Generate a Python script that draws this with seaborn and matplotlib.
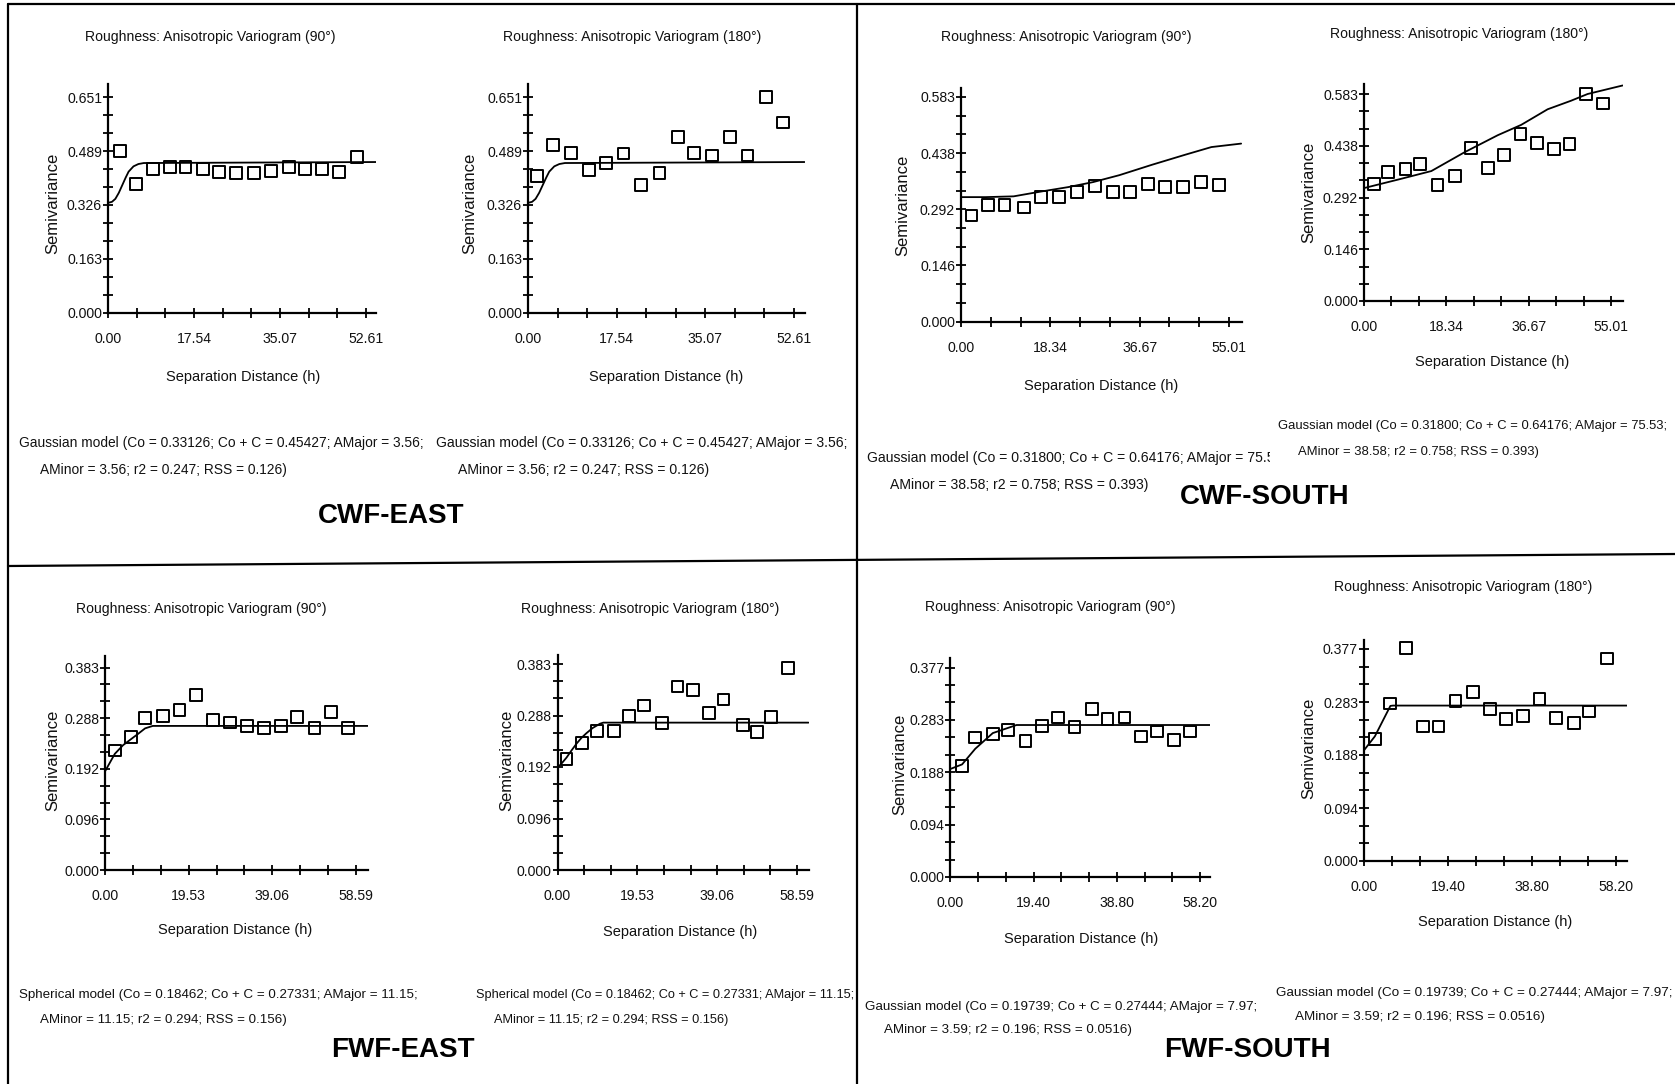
import numpy as np
import matplotlib
matplotlib.use("Agg")
import matplotlib.pyplot as plt
import seaborn as sns
from matplotlib import font_manager
from matplotlib.ticker import AutoMinorLocator
from matplotlib.lines import Line2D
from matplotlib.transforms import Bbox, TransformedBbox

# ---------------- data ----------------
# CWF-EAST, 90 deg
lag_cwf_e90 = [2.42, 5.64, 9.14, 12.6, 15.8, 19.4, 22.6, 26.1, 29.7, 33.2, 36.9, 40.2, 43.7, 47.1, 50.8]
sv_cwf_e90 = [0.488, 0.388, 0.433, 0.441, 0.441, 0.433, 0.426, 0.421, 0.421, 0.429, 0.441, 0.433, 0.433, 0.426, 0.470]
# CWF-EAST, 180 deg
lag_cwf_e180 = [1.83, 4.97, 8.57, 12.04, 15.5, 18.9, 22.4, 26.0, 29.7, 32.8, 36.4, 40.0, 43.4, 47.0, 50.5]
sv_cwf_e180 = [0.413, 0.506, 0.483, 0.430, 0.452, 0.481, 0.386, 0.421, 0.530, 0.483, 0.475, 0.530, 0.475, 0.651, 0.574]
# model curve CWF-EAST (same in both directions)
mod_h_cwf_e = [0, 0.8, 1.5, 2.2, 2.9, 3.6, 4.2, 5.2, 6.2, 7.3, 54.7]
mod_g_cwf_e = [0.332, 0.335, 0.344, 0.362, 0.385, 0.408, 0.426, 0.442, 0.449, 0.452, 0.455]

# CWF-SOUTH, 90 deg
lag_cwf_s90 = [2.17, 5.48, 8.93, 12.86, 16.44, 20.16, 23.75, 27.54, 31.19, 34.64, 38.43, 41.95, 45.54, 49.26, 52.98]
sv_cwf_s90 = [0.275, 0.302, 0.302, 0.296, 0.323, 0.323, 0.337, 0.351, 0.337, 0.337, 0.357, 0.350, 0.350, 0.363, 0.354]
mod_h_cwf_s90 = [0, 5, 10.8, 16.2, 22, 27.1, 32.5, 39.2, 46, 51.4, 57.5]
mod_g_cwf_s90 = [0.323, 0.323, 0.325, 0.337, 0.349, 0.362, 0.380, 0.407, 0.433, 0.453, 0.462]
# CWF-SOUTH, 180 deg
lag_cwf_s180 = [2.30, 5.40, 9.25, 12.51, 16.36, 20.21, 23.91, 27.62, 31.17, 34.87, 38.57, 42.28, 45.76, 49.46, 53.23]
sv_cwf_s180 = [0.330, 0.364, 0.371, 0.386, 0.326, 0.352, 0.432, 0.374, 0.412, 0.470, 0.446, 0.427, 0.443, 0.583, 0.556]
mod_h_cwf_s180 = [0, 7.6, 15.0, 22.4, 29.8, 35.0, 40.9, 46.1, 49.8, 57.6]
mod_g_cwf_s180 = [0.318, 0.342, 0.366, 0.419, 0.467, 0.496, 0.540, 0.564, 0.583, 0.607]

# FWF-EAST, 90 deg
lag_fwf_e90 = [2.28, 6.06, 9.36, 13.45, 17.38, 21.23, 25.17, 29.18, 33.18, 37.12, 41.05, 44.8, 48.9, 52.7, 56.8]
sv_fwf_e90 = [0.226, 0.251, 0.288, 0.292, 0.302, 0.331, 0.284, 0.279, 0.273, 0.268, 0.273, 0.289, 0.268, 0.299, 0.268]
mod_h_fwf_e90 = [0, 2.28, 4.2, 6.06, 7.8, 9.36, 11.15, 61.5]
mod_g_fwf_e90 = [0.1865, 0.2196, 0.236, 0.2474, 0.258, 0.2679, 0.2725, 0.2725]
# FWF-EAST, 180 deg
lag_fwf_e180 = [2.21, 6.05, 9.72, 13.89, 17.57, 21.25, 25.66, 29.34, 33.1, 37.1, 40.6, 45.35, 48.8, 52.3, 56.4]
sv_fwf_e180 = [0.207, 0.236, 0.259, 0.259, 0.287, 0.306, 0.274, 0.341, 0.334, 0.292, 0.317, 0.269, 0.256, 0.284, 0.375]
mod_h_fwf_e180 = [0, 1.1, 2.21, 3.4, 4.66, 5.9, 7.1, 8.6, 10.4, 11.2, 61.4]
mod_g_fwf_e180 = [0.190, 0.199, 0.209, 0.222, 0.235, 0.246, 0.2545, 0.264, 0.272, 0.274, 0.274]

# FWF-SOUTH, 90 deg
lag_fwf_s90 = [2.70, 5.78, 9.87, 13.49, 17.5, 21.35, 25.05, 28.9, 32.99, 36.6, 40.6, 44.4, 48.2, 52.2, 55.9]
sv_fwf_s90 = [0.1995, 0.251, 0.257, 0.265, 0.245, 0.272, 0.287, 0.270, 0.303, 0.284, 0.287, 0.253, 0.262, 0.247, 0.262]
mod_h_fwf_s90 = [0, 2.7, 5.78, 9.87, 13.5, 15.4, 60.5]
mod_g_fwf_s90 = [0.1945, 0.2026, 0.2308, 0.259, 0.2685, 0.2735, 0.2735]
# FWF-SOUTH, 180 deg
lag_fwf_s180 = [2.51, 6.09, 9.74, 13.69, 17.19, 21.15, 25.1, 29.14, 32.79, 36.75, 40.55, 44.35, 48.5, 51.96, 56.1]
sv_fwf_s180 = [0.217, 0.280, 0.379, 0.239, 0.239, 0.284, 0.301, 0.270, 0.252, 0.258, 0.288, 0.254, 0.245, 0.266, 0.360]
mod_h_fwf_s180 = [0, 2.51, 6.09, 6.7, 60.7]
mod_g_fwf_s180 = [0.1969, 0.2217, 0.2758, 0.2764, 0.2764]

# tick labels
xt_cwf_e = ["0.00", "17.54", "35.07", "52.61"]
yt_cwf_e = ["0.000", "0.163", "0.326", "0.489", "0.651"]
xt_cwf_s = ["0.00", "18.34", "36.67", "55.01"]
yt_cwf_s = ["0.000", "0.146", "0.292", "0.438", "0.583"]
xt_fwf_e = ["0.00", "19.53", "39.06", "58.59"]
yt_fwf_e = ["0.000", "0.096", "0.192", "0.288", "0.383"]
xt_fwf_s = ["0.00", "19.40", "38.80", "58.20"]
yt_fwf_s = ["0.000", "0.094", "0.188", "0.283", "0.377"]

title_90 = "Roughness: Anisotropic Variogram (90°)"
title_180 = "Roughness: Anisotropic Variogram (180°)"
ylabel_txt = "Semivariance"
xlabel_txt = "Separation Distance (h)"

model_cwf_e = ["Gaussian model (Co = 0.33126; Co + C = 0.45427; AMajor = 3.56;",
               "AMinor = 3.56; r2 = 0.247; RSS = 0.126)"]
model_cwf_s = ["Gaussian model (Co = 0.31800; Co + C = 0.64176; AMajor = 75.53;",
               "AMinor = 38.58; r2 = 0.758; RSS = 0.393)"]
model_fwf_e = ["Spherical model (Co = 0.18462; Co + C = 0.27331; AMajor = 11.15;",
               "AMinor = 11.15; r2 = 0.294; RSS = 0.156)"]
model_fwf_s = ["Gaussian model (Co = 0.19739; Co + C = 0.27444; AMajor = 7.97;",
               "AMinor = 3.59; r2 = 0.196; RSS = 0.0516)"]

group_labels = ["CWF-EAST", "CWF-SOUTH", "FWF-EAST", "FWF-SOUTH"]

# ---------------- layout (pixel positions in the 1675x1084 canvas) ----------------
W, H = 1675, 1084
panels = [
    dict(h=lag_cwf_e90, g=sv_cwf_e90, mh=mod_h_cwf_e, mg=mod_g_cwf_e, xt=xt_cwf_e, yt=yt_cwf_e,
         title=title_90, model=model_cwf_e, origin=(108, 313), last=(366, 97), end=(376, 84),
         tpos=(210, 37), ylpos=(53, 203), xlpos=(243, 377), m1=(19, 443), m2=(40, 470),
         fs=9.95, clip=None),
    dict(h=lag_cwf_e180, g=sv_cwf_e180, mh=mod_h_cwf_e, mg=mod_g_cwf_e, xt=xt_cwf_e, yt=yt_cwf_e,
         title=title_180, model=model_cwf_e, origin=(528, 313), last=(794, 97), end=(805, 84),
         tpos=(632, 37), ylpos=(470, 203), xlpos=(666, 377), m1=(436, 443), m2=(458, 470),
         fs=10.1, clip=None),
    dict(h=lag_cwf_s90, g=sv_cwf_s90, mh=mod_h_cwf_s90, mg=mod_g_cwf_s90, xt=xt_cwf_s, yt=yt_cwf_s,
         title=title_90, model=model_cwf_s, origin=(961, 321.5), last=(1229, 97), end=(1242, 88),
         tpos=(1066, 37), ylpos=(903, 205), xlpos=(1101, 386), m1=(867, 458), m2=(890, 485),
         fs=10.05, clip=1270),
    dict(h=lag_cwf_s180, g=sv_cwf_s180, mh=mod_h_cwf_s180, mg=mod_g_cwf_s180, xt=xt_cwf_s, yt=yt_cwf_s,
         title=title_180, model=model_cwf_s, origin=(1364, 301), last=(1611, 94), end=(1623, 84),
         tpos=(1459, 34), ylpos=(1309, 192), xlpos=(1492, 362), m1=(1278, 426), m2=(1298, 452),
         fs=9.4, clip=None),
    dict(h=lag_fwf_e90, g=sv_fwf_e90, mh=mod_h_fwf_e90, mg=mod_g_fwf_e90, xt=xt_fwf_e, yt=yt_fwf_e,
         title=title_90, model=model_fwf_e, origin=(105, 870), last=(356, 667.5), end=(368, 656),
         tpos=(201, 609), ylpos=(53, 760), xlpos=(235, 930), m1=(19, 995), m2=(40, 1020),
         fs=9.65, clip=None),
    dict(h=lag_fwf_e180, g=sv_fwf_e180, mh=mod_h_fwf_e180, mg=mod_g_fwf_e180, xt=xt_fwf_e, yt=yt_fwf_e,
         title=title_180, model=model_fwf_e, origin=(557.5, 870), last=(797, 664), end=(809, 655),
         tpos=(650, 609), ylpos=(507, 760), xlpos=(680, 932), m1=(476, 995), m2=(494, 1020),
         fs=9.15, clip=None),
    dict(h=lag_fwf_s90, g=sv_fwf_s90, mh=mod_h_fwf_s90, mg=mod_g_fwf_s90, xt=xt_fwf_s, yt=yt_fwf_s,
         title=title_90, model=model_fwf_s, origin=(950.5, 877), last=(1200, 667.5), end=(1210, 658),
         tpos=(1050, 607), ylpos=(900, 764), xlpos=(1081, 939), m1=(865, 1007), m2=(884, 1030),
         fs=9.65, clip=None),
    dict(h=lag_fwf_s180, g=sv_fwf_s180, mh=mod_h_fwf_s180, mg=mod_g_fwf_s180, xt=xt_fwf_s, yt=yt_fwf_s,
         title=title_180, model=model_fwf_s, origin=(1364, 861), last=(1616, 649), end=(1627, 640),
         tpos=(1463, 587), ylpos=(1309, 748), xlpos=(1495, 922), m1=(1276, 993), m2=(1295, 1017),
         fs=9.7, clip=None),
]
label_pos = [(318, 516), (1180, 497), (331, 1050), (1164, 1050)]

# ---------------- style ----------------
sns.set_theme(style="white")
names = {f.name for f in font_manager.fontManager.ttflist}
HAS_NARROW = "Liberation Sans Narrow" in names
NARROW = "Liberation Sans Narrow" if HAS_NARROW else "Liberation Sans"
REG = "Liberation Sans" if "Liberation Sans" in names else "DejaVu Sans"
K = 1.0 if HAS_NARROW else 0.84
KM = 1.19 if HAS_NARROW else 1.0
plt.rcParams["font.family"] = [NARROW, "DejaVu Sans"]
TXT = "#111111"

fig = plt.figure(figsize=(W / 100, H / 100), dpi=100)
fig.patch.set_facecolor("white")


def fx(px):
    return px / W


def fy(py):
    return 1 - py / H


for p in panels:
    ox, oy = p["origin"]
    tx, ty = p["last"]
    ex, ey = p["end"]
    xlast = float(p["xt"][-1])
    ylast = float(p["yt"][-1])
    xs = (tx - ox) / xlast
    ys = (oy - ty) / ylast
    ax = fig.add_axes([fx(ox), fy(oy), (ex - ox) / W, (oy - ey) / H])
    ax.patch.set_alpha(0)
    sns.lineplot(x=p["mh"], y=p["mg"], ax=ax, color="black", linewidth=1.3,
                 estimator=None, sort=False)
    sns.scatterplot(x=p["h"], y=p["g"], ax=ax, marker="s", s=72, facecolor="none",
                    edgecolor="black", linewidth=1.4, clip_on=False, zorder=3)
    ax.set_xlim(0, (ex - ox) / xs)
    ax.set_ylim(0, (oy - ey) / ys)
    ax.set_xticks(np.linspace(0, xlast, len(p["xt"])))
    ax.set_xticklabels(p["xt"])
    ax.set_yticks(np.linspace(0, ylast, len(p["yt"])))
    ax.set_yticklabels(p["yt"])
    ax.xaxis.set_minor_locator(AutoMinorLocator(3))
    ax.yaxis.set_minor_locator(AutoMinorLocator(3))
    ax.tick_params(which="both", direction="inout", length=7, width=1.3, color="black",
                   bottom=True, left=True, top=False, right=False)
    ax.tick_params(axis="x", which="major", pad=10.5, labelsize=12 * K, labelcolor=TXT)
    ax.tick_params(axis="y", which="major", pad=0.8, labelsize=12 * K, labelcolor=TXT)
    for s in ("top", "right"):
        ax.spines[s].set_visible(False)
    for s in ("left", "bottom"):
        ax.spines[s].set_linewidth(1.6)
        ax.spines[s].set_color("black")
    ax.set_xlabel("")
    ax.set_ylabel("")

    fig.text(fx(p["tpos"][0]), fy(p["tpos"][1]), p["title"], ha="center", va="center",
             fontsize=12 * K, color=TXT)
    fig.text(fx(p["ylpos"][0]), fy(p["ylpos"][1]), ylabel_txt, ha="center", va="center",
             rotation=90, fontsize=12, color=TXT, family=[REG, "DejaVu Sans"])
    fig.text(fx(p["xlpos"][0]), fy(p["xlpos"][1]), xlabel_txt, ha="center", va="center",
             fontsize=12.5 * K, color=TXT)
    t1 = fig.text(fx(p["m1"][0]), fy(p["m1"][1]), p["model"][0], ha="left", va="center",
                  fontsize=p["fs"] * KM, color=TXT)
    fig.text(fx(p["m2"][0]), fy(p["m2"][1]), p["model"][1], ha="left", va="center",
             fontsize=p["fs"] * KM, color=TXT)
    if p["clip"] is not None:
        t1.set_clip_box(TransformedBbox(Bbox([[0, 0], [fx(p["clip"]), 1]]), fig.transFigure))
        t1.set_clip_on(True)

for lab, (lx, ly) in zip(group_labels, label_pos):
    fig.text(fx(lx), fy(ly), lab, ha="left", va="center", fontsize=20 * (1.15 if HAS_NARROW else 1.0),
             fontweight="bold", color="black")

# frame / dividers
frame = [((8, 4), (1675, 4)), ((8, 4), (8, 1084)), ((857, 4), (857, 1084)),
         ((8, 566), (1675, 554))]
for (x0, y0), (x1, y1) in frame:
    fig.add_artist(Line2D([fx(x0), fx(x1)], [fy(y0), fy(y1)], transform=fig.transFigure,
                          color="black", linewidth=1.6))

fig.savefig("out.png", dpi=100, facecolor="white")
